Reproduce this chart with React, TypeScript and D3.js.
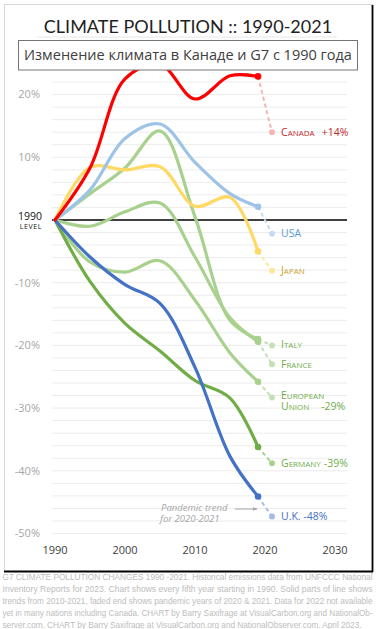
import React from "react";
import * as d3 from "d3";

// ---- data (percent change vs 1990) ----
const years = [1990, 1995, 2000, 2005, 2010, 2015, 2019];
const pandemicYear = 2021;

const canada = [0, 8.3, 22.5, 24.8, 19.3, 23.0, 22.9];
const canada2021 = 14;
const usa = [0, 4.8, 13.0, 15.3, 9.2, 4.2, 2.1];
const usa2021 = -2.2;
const japan = [0, 8.4, 8.0, 8.5, 2.2, 3.6, -5.0];
const japan2021 = -8.1;
const italy = [0, 4.2, 8.3, 14.2, 0.5, -16.0, -19.0];
const italy2021 = -20;
const france = [0, -1.0, 1.3, 2.7, -5.9, -15.6, -19.4];
const france2021 = -23;
const eu = [0, -6.7, -8.3, -6.5, -12.8, -21.2, -25.8];
const eu2021 = -28.3;
const germany = [0, -9.8, -16.5, -20.9, -25.6, -28.4, -36.2];
const germany2021 = -38.8;
const uk = [0, -5.9, -10.3, -13.3, -23.5, -37.7, -44.1];
const uk2021 = -47.3;

const yTicks = [20, 10, -10, -20, -30, -40, -50];
const xTicks = [1990, 2000, 2010, 2020, 2030];

const title = "CLIMATE POLLUTION :: 1990-2021";
const subtitle = "Изменение климата в Канаде и G7 с 1990 года";
const footer = [
  "G7 CLIMATE POLLUTION CHANGES 1990 -2021. Historical emissions data from UNFCCC National",
  "Inventory Reports for 2023. Chart shows every fifth year starting in 1990.  Solid parts of line shows",
  "trends from 2010-2021, faded end shows pandemic years of 2020 & 2021. Data for 2022 not available",
  "yet in many nations including Canada. CHART by Barry Saxifrage at VisualCarbon.org and NationalOb-",
  "server.com. CHART by Barry Saxifrage at VisualCarbon.org and NationalObserver.com. April 2023.",
];

type S = {
  key: string;
  values: number[];
  end: number;
  color: string;
  faded: string;
  width: number;
};

const series: S[] = [
  { key: "italy", values: italy, end: italy2021, color: "#a9d18e", faded: "#c5e0b4", width: 3.2 },
  { key: "france", values: france, end: france2021, color: "#a9d18e", faded: "#c5e0b4", width: 3.2 },
  { key: "eu", values: eu, end: eu2021, color: "#a9d18e", faded: "#c5e0b4", width: 3.2 },
  { key: "germany", values: germany, end: germany2021, color: "#70ad47", faded: "#a9d18e", width: 3.2 },
  { key: "japan", values: japan, end: japan2021, color: "#ffd966", faded: "#ffe699", width: 3.2 },
  { key: "usa", values: usa, end: usa2021, color: "#9dc3e6", faded: "#c5dbf1", width: 3.2 },
  { key: "uk", values: uk, end: uk2021, color: "#4472c4", faded: "#a4bbe6", width: 3.2 },
  { key: "canada", values: canada, end: canada2021, color: "#ff0000", faded: "#f7b4b4", width: 3.2 },
];

const W = 376;
const H = 629;

export default function App() {
  const x = d3.scaleLinear().domain([1990, 2030]).range([55, 335]);
  const y = d3.scaleLinear().domain([24, -50]).range([69.5, 533.5]);

  const line = d3
    .line<number>()
    .x((_, i) => x(years[i]))
    .y((d) => y(d))
    .curve(d3.curveCatmullRom.alpha(0.5));

  const grid = d3.range(-50, 23, 2);
  const lastYear = years[years.length - 1];
  const labelX = 281;
  const sans = "'Open Sans', 'Noto Sans', sans-serif";

  const sc = (first: string, rest: string, color: string, yy: number, tail?: string, tailGap = 6) => (
    <text x={labelX} y={yy} dy="0.35em" fill={color} fontFamily={sans} fontSize={10.5}>
      <tspan>{first}</tspan>
      <tspan fontSize={8}>{rest}</tspan>
      {tail ? <tspan dx={tailGap}>{tail}</tspan> : null}
    </text>
  );

  return (
    <svg
      width={W}
      height={H}
      viewBox={`0 0 ${W} ${H}`}
      style={{ position: "absolute", left: 0, top: 0, background: "#fff" }}
    >
      <defs>
        <clipPath id="plotclip">
          <rect x={0} y={70} width={W} height={480} />
        </clipPath>
        <marker id="arr" viewBox="0 0 10 10" refX="9" refY="5" markerWidth="5" markerHeight="5" orient="auto">
          <path d="M0,1 L10,5 L0,9 z" fill="#a6a6a6" />
        </marker>
      </defs>

      {/* frame */}
      <rect x={4.5} y={4.5} width={368} height={567} fill="#fff" stroke="#d9d9d9" />
      <line x1={372.5} y1={5} x2={372.5} y2={572} stroke="#000" strokeWidth={1.8} />
      <line x1={4} y1={571.5} x2={373} y2={571.5} stroke="#000" strokeWidth={1.8} />

      {/* grid */}
      {grid.map((g) => (
        <line key={g} x1={52} x2={347} y1={y(g)} y2={y(g)} stroke="#ececec" strokeWidth={1} />
      ))}

      {/* y labels */}
      {yTicks.map((t) => (
        <text
          key={t}
          x={40}
          y={y(t)}
          dy="0.35em"
          textAnchor="end"
          fill="#a6a6a6"
          fontFamily={sans}
          fontSize={11}
        >
          {`${t}%`}
        </text>
      ))}
      <text x={42} y={219.5} textAnchor="end" fill="#111" fontFamily={sans} fontSize={10.5}>
        1990
      </text>
      <text x={42} y={228.5} textAnchor="end" fill="#111" fontFamily={sans} fontSize={7} letterSpacing={0.6}>
        LEVEL
      </text>

      {/* zero line */}
      <line x1={52} x2={347} y1={y(0)} y2={y(0)} stroke="#404040" strokeWidth={2} />

      {/* x labels */}
      {xTicks.map((t) => (
        <text
          key={t}
          x={x(t)}
          y={554}
          textAnchor="middle"
          fill="#404040"
          fontFamily={sans}
          fontSize={11}
        >
          {t}
        </text>
      ))}

      {/* lines */}
      <g clipPath="url(#plotclip)">
        {series.map((s) => (
          <g key={s.key}>
            <line
              x1={x(lastYear)}
              y1={y(s.values[s.values.length - 1])}
              x2={x(pandemicYear)}
              y2={y(s.end)}
              stroke={s.faded}
              strokeWidth={2}
              strokeDasharray="4,3"
            />
            <circle cx={x(pandemicYear)} cy={y(s.end)} r={3} fill={s.faded} />
            <path
              d={line(s.values) || ""}
              fill="none"
              stroke={s.color}
              strokeWidth={s.width}
              strokeLinecap="round"
              strokeLinejoin="round"
            />
            <circle cx={x(lastYear)} cy={y(s.values[s.values.length - 1])} r={3.3} fill={s.color} />
          </g>
        ))}
      </g>

      {/* labels */}
      {sc("C", "ANADA", "#c0282d", y(canada2021), "+14%", 7)}
      <text x={labelX} y={y(usa2021)} dy="0.35em" fill="#5b9bd5" fontFamily={sans} fontSize={10.5}>
        USA
      </text>
      {sc("J", "APAN", "#c9a227", y(japan2021))}
      {sc("I", "TALY", "#70ad47", y(italy2021) - 1.5)}
      {sc("F", "RANCE", "#70ad47", y(france2021))}
      {sc("E", "UROPEAN", "#70ad47", y(eu2021) - 2)}
      {sc("U", "NION", "#70ad47", y(eu2021) + 9, "-29%", 12)}
      {sc("G", "ERMANY", "#70ad47", y(germany2021), "-39%", 3)}
      <text x={labelX} y={y(uk2021)} dy="0.35em" fill="#4472c4" fontFamily={sans} fontSize={10.5}>
        U.K. -48%
      </text>

      {/* pandemic note */}
      <text x={161} y={511} fill="#a6a6a6" fontFamily={sans} fontStyle="italic" fontSize={9.5}>
        Pandemic trend
      </text>
      <text x={160} y={521.5} fill="#a6a6a6" fontFamily={sans} fontStyle="italic" fontSize={9.5}>
        for 2020-2021
      </text>
      <line x1={235} y1={509} x2={257} y2={509} stroke="#a6a6a6" strokeWidth={1} markerEnd="url(#arr)" />

      {/* title */}
      <text x={188} y={33} textAnchor="middle" fill="#222" fontFamily="Lato, 'Open Sans', sans-serif" fontSize={18}>
        {title}
      </text>
      <line x1={37} x2={337} y1={37} y2={37} stroke="#e6e6e6" />
      <rect x={18.5} y={40.5} width={339} height={29.5} fill="#fff" stroke="#767676" />
      <text x={188} y={60} textAnchor="middle" fill="#404040" fontFamily={sans} fontSize={14.5}>
        {subtitle}
      </text>

      {/* footer */}
      {footer.map((f, i) => (
        <text
          key={i}
          x={2.5}
          y={579.5 + i * 12}
          fill="#bdbdbd"
          fontFamily="'Liberation Sans', Arial, sans-serif"
          fontSize={9.8}
          textLength={i < footer.length - 1 ? 370 : 359}
          lengthAdjust="spacingAndGlyphs"
        >
          {f}
        </text>
      ))}
    </svg>
  );
}
